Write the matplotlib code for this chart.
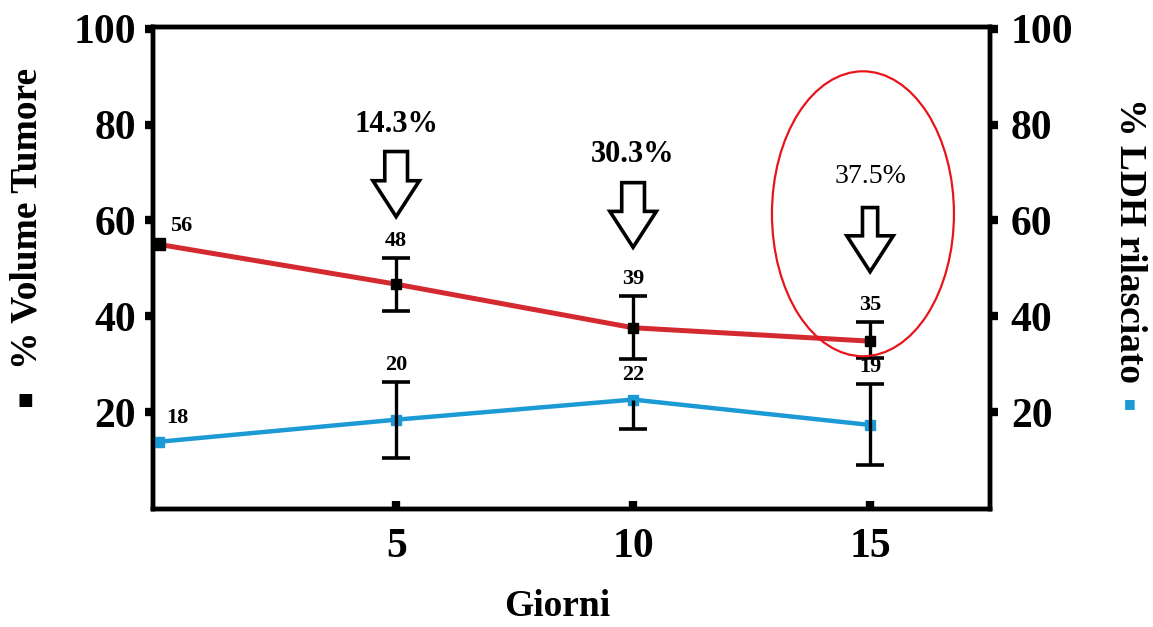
import matplotlib.pyplot as plt
from matplotlib.patches import FancyArrow, Ellipse

# data
days = [0, 5, 10, 15]
tumor_volume = [55.0, 46.7, 37.6, 34.8]
tumor_err_low = [0, 5.6, 6.6, 3.6]
tumor_err_high = [0, 5.4, 6.6, 4.0]
tumor_labels = ['56', '48', '39', '35']

ldh = [13.8, 18.4, 22.6, 17.3]
ldh_err_low = [0, 7.9, 6.2, 8.4]
ldh_err_high = [0, 7.9, 0, 8.5]
ldh_labels = ['18', '20', '22', '19']

reduction_days = [5, 10, 15]
reduction_labels = ['14.3%', '30.3%', '37.5%']

x_ticks = [5, 10, 15]
y_ticks = [20, 40, 60, 80, 100]

# annotation layout (arrow top / tip in y units, label height)
arrow_top = [74.4, 67.9, 62.7]
arrow_tip = [60.8, 54.4, 49.3]
label_y = [80.0, 73.8, 69.2]

RED = '#d42a2f'
BLUE = '#1b9ad6'
SERIF = 'Liberation Serif'

plt.rcParams['font.family'] = [SERIF, 'DejaVu Sans']


def draw_errors(ax, xs, ys, lows, highs):
    for x, y, lo, hi in zip(xs, ys, lows, highs):
        if lo == 0 and hi == 0:
            continue
        ax.vlines(x, y - lo, y + hi, color='black', lw=2.4, zorder=4)
        for e, sign in ((lo, -1), (hi, 1)):
            if e > 0:
                ax.plot(x, y + sign * e, marker='_', ms=20, mew=2.6,
                        color='black', zorder=4)


fig = plt.figure(figsize=(11.53, 6.27), dpi=100)
ax = fig.add_axes([0.1327, 0.1882, 0.8586 - 0.1327, 0.9569 - 0.1882])

# lines
ax.plot(days, ldh, color=BLUE, lw=3.2, marker='s', ms=6.5,
        mfc=BLUE, mec=BLUE, zorder=3)
ax.plot(days, tumor_volume, color=RED, lw=3.6, zorder=3)
ax.plot(days[1:], tumor_volume[1:], ls='none', marker='s', ms=6.5,
        color='black', zorder=5)
ax.plot(days[0], tumor_volume[0], ls='none', marker='s', ms=9,
        color='black', zorder=5, clip_on=False)

draw_errors(ax, days, tumor_volume, tumor_err_low, tumor_err_high)
draw_errors(ax, days, ldh, ldh_err_low, ldh_err_high)

# value labels
for i, (x, y) in enumerate(zip(days, tumor_volume)):
    if i == 0:
        ax.annotate(tumor_labels[i], (x, y), xytext=(8, 6), textcoords='offset points',
                    ha='left', va='bottom', fontsize=16, fontweight='bold')
    else:
        ax.annotate(tumor_labels[i], (x, y + tumor_err_high[i]), xytext=(0, 5),
                    textcoords='offset points', ha='center', va='bottom',
                    fontsize=16, fontweight='bold')
for i, (x, y) in enumerate(zip(days, ldh)):
    if i == 0:
        ax.annotate(ldh_labels[i], (x, y), xytext=(5, 10), textcoords='offset points',
                    ha='left', va='bottom', fontsize=16, fontweight='bold')
    else:
        top = y + max(ldh_err_high[i], 1.5)
        ax.annotate(ldh_labels[i], (x, top), xytext=(0, 5),
                    textcoords='offset points', ha='center', va='bottom',
                    fontsize=16, fontweight='bold')

# reduction arrows
for i, d in enumerate(reduction_days):
    shaft = 0.48 if i < 2 else 0.32
    arr = FancyArrow(d, arrow_top[i], 0, arrow_tip[i] - arrow_top[i],
                     width=shaft, head_width=0.98, head_length=7.5,
                     length_includes_head=True, fc='white', ec='black',
                     lw=2.6, zorder=6)
    ax.add_patch(arr)
    ax.text(d, label_y[i], reduction_labels[i], ha='center', va='center',
            fontsize=22 if i < 2 else 20,
            fontweight='bold' if i < 2 else 'normal')

ax.add_patch(Ellipse((14.85, 61.4), 3.84, 59.5, fill=False, ec='#e8141c', lw=1.6,
                     zorder=7))

ax.set_xlim(-0.13, 17.53)
ax.set_ylim(-0.25, 100.4)
ax.set_xticks(x_ticks)
ax.set_yticks(y_ticks)

for s in ax.spines.values():
    s.set_linewidth(3.2)

ax.tick_params(axis='x', direction='in', length=6, width=6, pad=14,
               labelsize=30)
ax.tick_params(axis='y', direction='out', length=6, width=6, pad=6,
               labelsize=30)
for lab in ax.get_xticklabels() + ax.get_yticklabels():
    lab.set_fontweight('bold')

ax2 = ax.twinx()
ax2.set_ylim(ax.get_ylim())
ax2.set_yticks(y_ticks)
ax2.tick_params(axis='y', direction='out', length=6, width=6, pad=9,
                labelsize=30)
for lab in ax2.get_yticklabels():
    lab.set_fontweight('bold')
for s in ax2.spines.values():
    s.set_linewidth(3.2)

# axis titles
fig.text(557 / 1153, 0.032, 'Giorni', ha='center', va='center',
         fontsize=27, fontweight='bold')
fig.text(27 / 1153, 0.652, '% Volume Tumore', rotation=90, ha='center', va='center',
         fontsize=27, fontweight='bold')
fig.text(25 / 1153, 0.362, '\u25a0', ha='center', va='center', fontsize=12,
         family='DejaVu Sans', color='black')
fig.text(1130 / 1153, 0.617, '% LDH rilasciato', rotation=270, ha='center', va='center',
         fontsize=27, fontweight='bold')
fig.text(1130 / 1153, 0.357, '\u25a0', ha='center', va='center', fontsize=9,
         family='DejaVu Sans', color=BLUE)

fig.savefig('out.png', dpi=100)
